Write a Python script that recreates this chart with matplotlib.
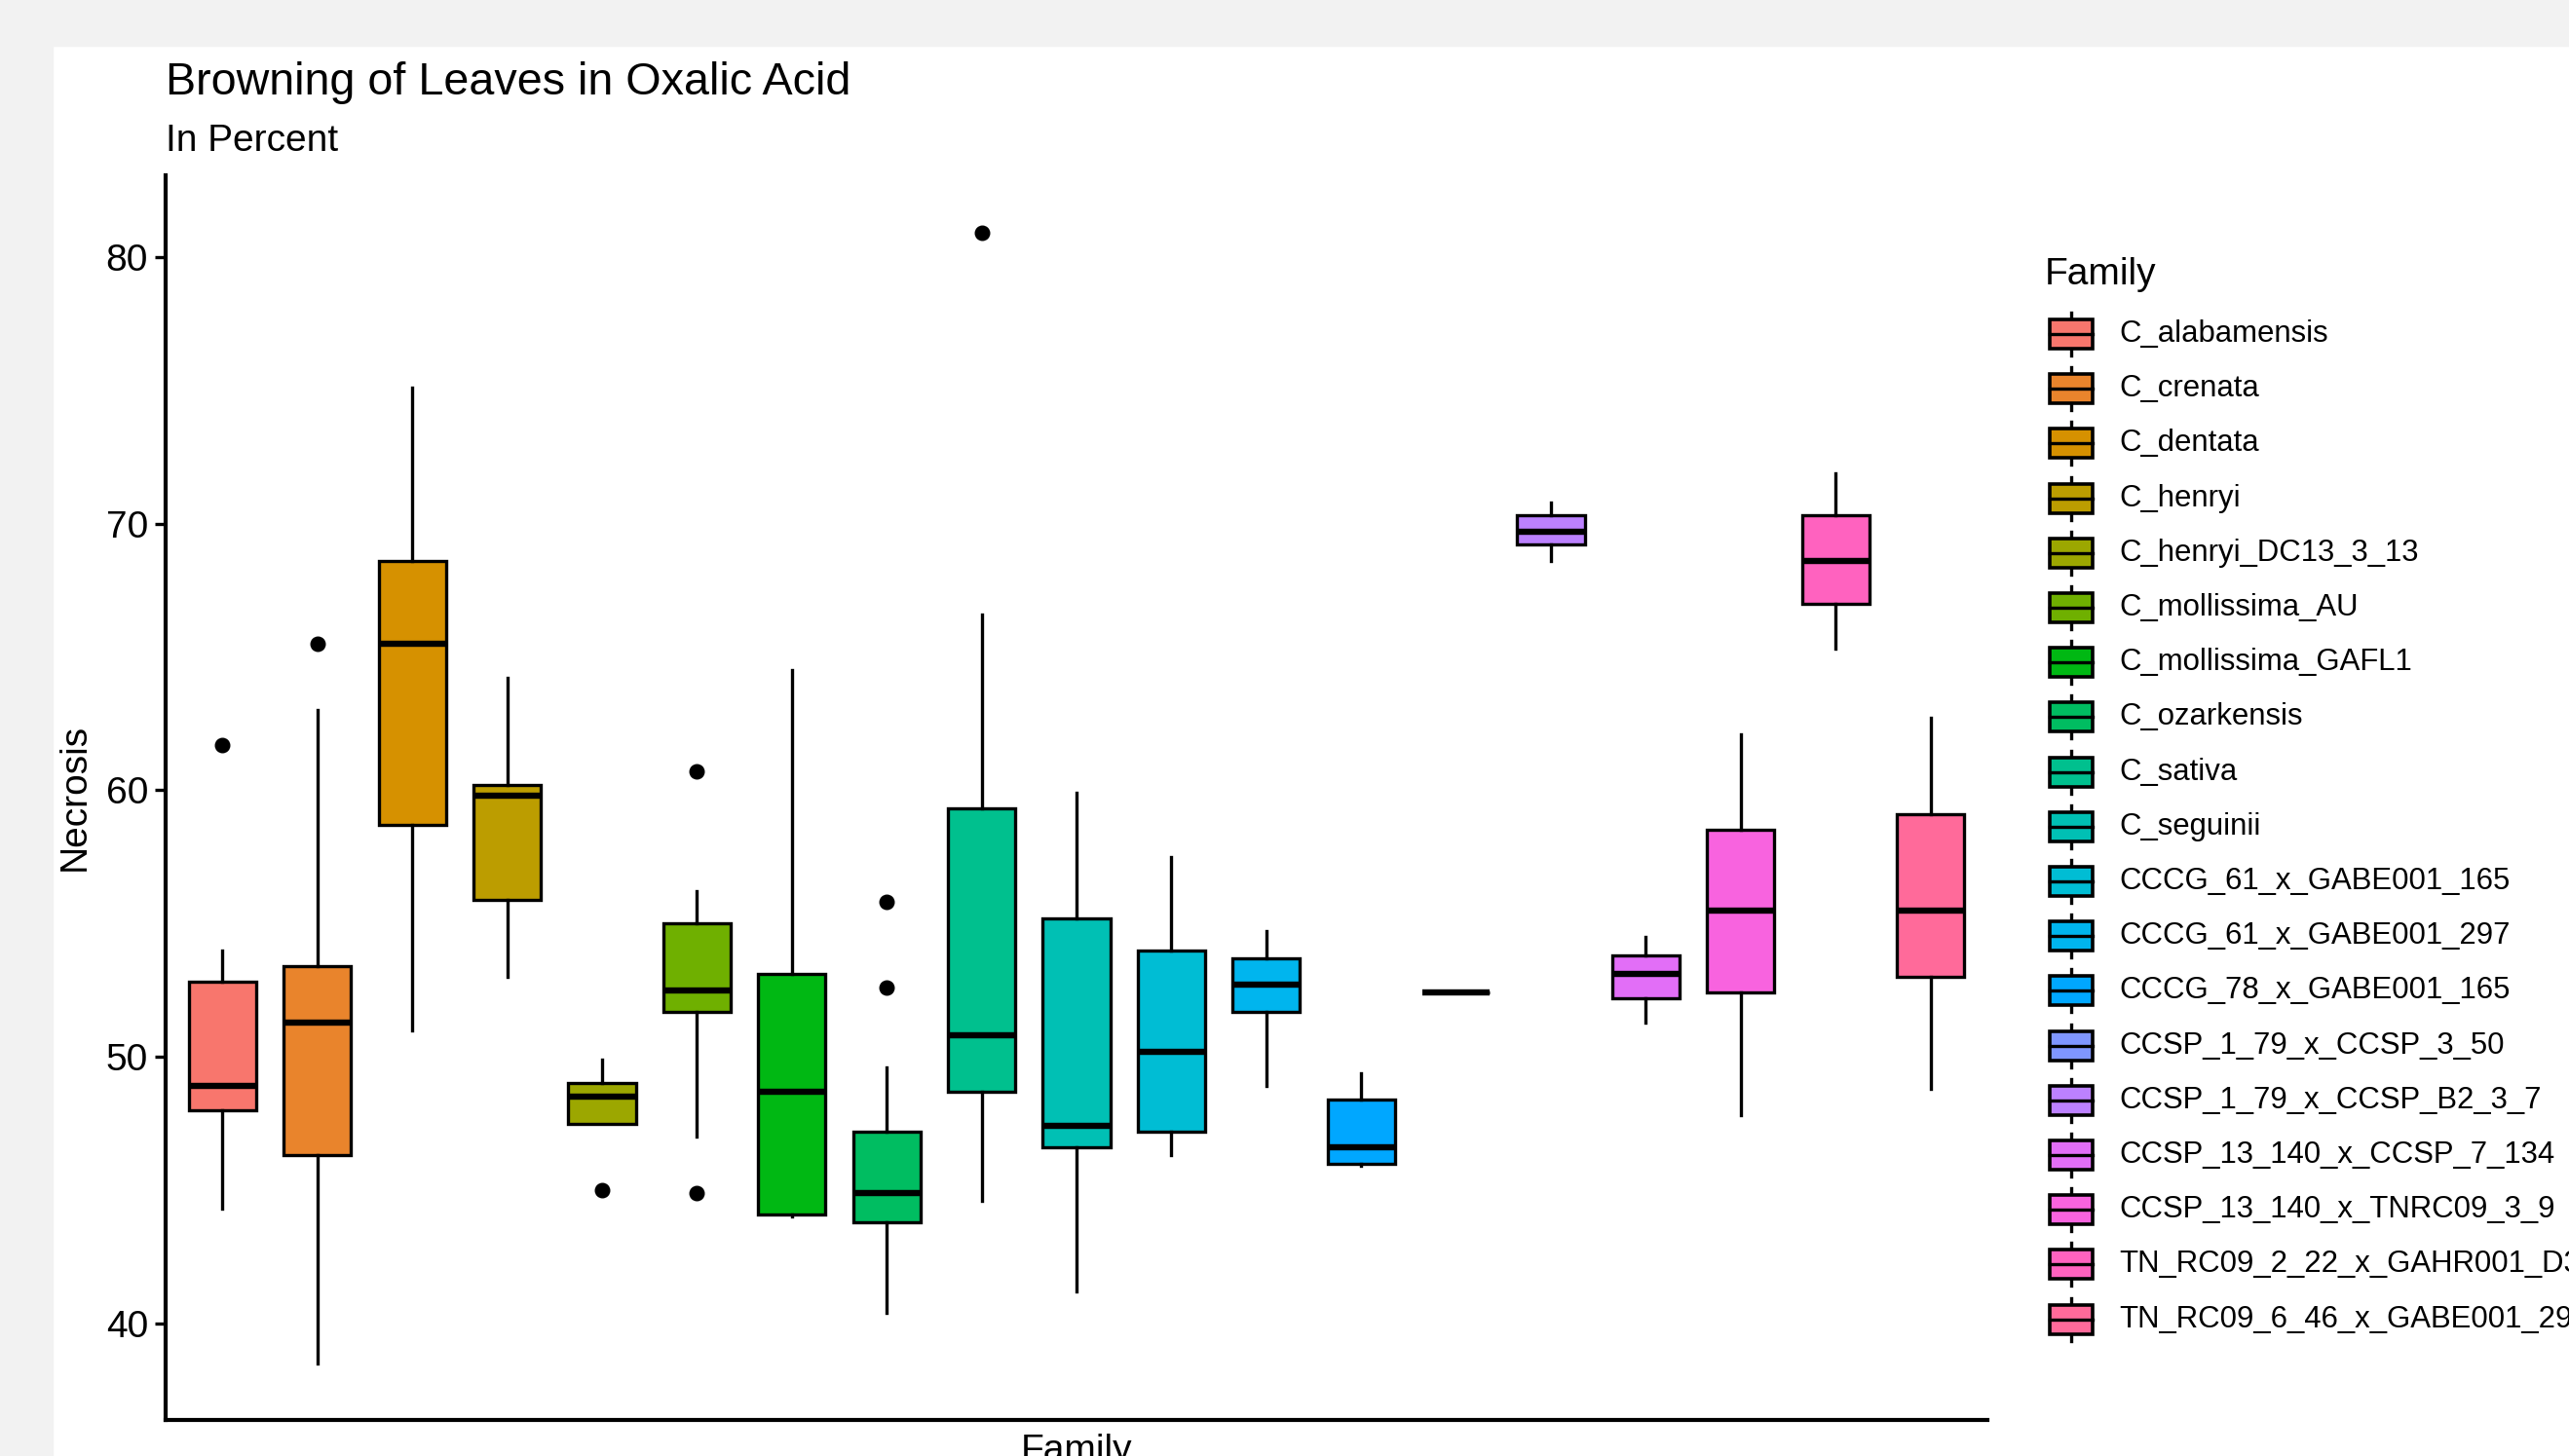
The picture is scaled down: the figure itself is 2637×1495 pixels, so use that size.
import numpy as np
import matplotlib
matplotlib.use("Agg")
import matplotlib.pyplot as plt
from matplotlib.patches import Rectangle

plt.rcParams['font.family'] = ['Liberation Sans', 'DejaVu Sans']

# data
families = ["C_alabamensis", "C_crenata", "C_dentata", "C_henryi", "C_henryi_DC13_3_13",
            "C_mollissima_AU", "C_mollissima_GAFL1", "C_ozarkensis", "C_sativa", "C_seguinii",
            "CCCG_61_x_GABE001_165", "CCCG_61_x_GABE001_297", "CCCG_78_x_GABE001_165",
            "CCSP_1_79_x_CCSP_3_50", "CCSP_1_79_x_CCSP_B2_3_7", "CCSP_13_140_x_CCSP_7_134",
            "CCSP_13_140_x_TNRC09_3_9", "TN_RC09_2_22_x_GAHR001_D3", "TN_RC09_6_46_x_GABE001_297"]
whis_lo = [44.3, 38.5, 51.0, 53.0, 47.5, 47.0, 44.0, 40.4, 44.6, 41.2, 46.3, 48.9, 45.9, 52.4, 68.6, 51.3, 47.8, 65.3, 48.8]
q1      = [48.0, 46.3, 58.7, 55.9, 47.5, 51.7, 44.1, 43.8, 48.7, 46.6, 47.2, 51.7, 46.0, 52.4, 69.2, 52.2, 52.4, 67.0, 53.0]
median  = [48.9, 51.3, 65.5, 59.8, 48.5, 52.5, 48.7, 44.9, 50.8, 47.4, 50.2, 52.7, 46.6, 52.4, 69.7, 53.1, 55.5, 68.6, 55.5]
q3      = [52.8, 53.4, 68.6, 60.2, 49.0, 55.0, 53.1, 47.2, 59.3, 55.2, 54.0, 53.7, 48.4, 52.4, 70.3, 53.8, 58.5, 70.3, 59.1]
whis_hi = [54.0, 63.0, 75.1, 64.2, 49.9, 56.2, 64.5, 49.6, 66.6, 59.9, 57.5, 54.7, 49.4, 52.4, 70.8, 54.5, 62.1, 71.9, 62.7]
outliers = [[61.7], [65.5], [], [], [45.0], [60.7, 44.9], [], [55.8, 52.6], [80.9],
            [], [], [], [], [], [], [], [], [], []]
yticks = [40, 50, 60, 70, 80]


def hue_colors(n, l=65, c=100):
    # ggplot2 default hue palette (HCL -> sRGB)
    hues = np.linspace(15, 375, n + 1)[:-1]
    xn, yn, zn = 95.047, 100.0, 108.883
    un = 4 * xn / (xn + 15 * yn + 3 * zn)
    vn = 9 * yn / (xn + 15 * yn + 3 * zn)
    out = []
    for h in hues:
        u = c * np.cos(np.radians(h))
        v = c * np.sin(np.radians(h))
        Y = yn * ((l + 16) / 116) ** 3
        up = u / (13 * l) + un
        vp = v / (13 * l) + vn
        X = Y * 9 * up / (4 * vp)
        Z = Y * (12 - 3 * up - 20 * vp) / (4 * vp)
        X, Y, Z = X / 100, Y / 100, Z / 100
        r = 3.2404542 * X - 1.5371385 * Y - 0.4985314 * Z
        g = -0.9692660 * X + 1.8760108 * Y + 0.0415560 * Z
        b = 0.0556434 * X - 0.2040259 * Y + 1.0572252 * Z
        rgb = []
        for ch in (r, g, b):
            ch = 12.92 * ch if ch <= 0.0031308 else 1.055 * ch ** (1 / 2.4) - 0.055
            rgb.append(min(max(ch, 0), 1))
        out.append(tuple(rgb))
    return out


colors = hue_colors(len(families))

W, H = 2637, 1495
fig = plt.figure(figsize=(W / 100, H / 100), dpi=100)
fig.patch.set_facecolor('white')
fig.add_artist(Rectangle((0, 1 - 47 / H), 1, 47 / H, transform=fig.transFigure, color='#f2f2f2', zorder=-5))
fig.add_artist(Rectangle((0, 0), 54 / W, 1, transform=fig.transFigure, color='#f2f2f2', zorder=-5))

ax = fig.add_axes([170 / W, 37 / H, (2040 - 170) / W, (1458 - 180) / H])

stats = []
for i in range(len(families)):
    stats.append(dict(med=median[i], q1=q1[i], q3=q3[i], whislo=whis_lo[i], whishi=whis_hi[i],
                      fliers=outliers[i], label=families[i]))

pos = np.arange(1, len(families) + 1)
bp = ax.bxp(stats, positions=pos, widths=0.71, patch_artist=True, showcaps=False,
            boxprops=dict(linewidth=2.4, edgecolor='black'),
            medianprops=dict(color='black', linewidth=4.6, solid_capstyle='butt'),
            whiskerprops=dict(color='black', linewidth=2.4),
            flierprops=dict(marker='o', markerfacecolor='black', markeredgecolor='black', markersize=10.5))
for patch, col in zip(bp['boxes'], colors):
    patch.set_facecolor(col)

ax.set_xlim(0.4, len(families) + 0.6)
ax.set_ylim(36.38, 83.06)
ax.set_yticks(yticks)
ax.set_xticks([])
ax.tick_params(axis='y', labelsize=28, length=8, width=2.4, pad=5, colors='black')
for s in ['top', 'right']:
    ax.spines[s].set_visible(False)
for s in ['left', 'bottom']:
    ax.spines[s].set_linewidth(3)

fig.text(170 / W, 1 - 97 / H, "Browning of Leaves in Oxalic Acid", fontsize=33.6, va='baseline', ha='left')
fig.text(170 / W, 1 - 155 / H, "In Percent", fontsize=28, va='baseline', ha='left')
fig.text(77 / W, 1 - 818 / H, "Necrosis", fontsize=28, rotation=90, va='center', ha='center')
fig.text(1105 / W, 1 - 1472 / H, "Family", fontsize=28, va='top', ha='center')

# legend drawn in pixel coordinates
lax = fig.add_axes([0, 0, 1, 1], zorder=3)
lax.set_xlim(0, W)
lax.set_ylim(H, 0)
lax.axis('off')
lax.patch.set_alpha(0)
lax.text(2099, 282, "Family", fontsize=28, va='center', ha='left')
for i, (name, col) in enumerate(zip(families, colors)):
    yc = 343 + 56.2 * i
    lax.plot([2126, 2126], [yc - 22, yc + 22], color='black', lw=2.4)
    lax.add_patch(Rectangle((2104, yc - 15), 44, 30, facecolor=col, edgecolor='black', lw=2.6, zorder=3))
    lax.plot([2104, 2148], [yc, yc], color='black', lw=2.4, zorder=4)
    lax.text(2175, yc, name, fontsize=22.4, va='center', ha='left')

fig.savefig("out.png", dpi=100)
